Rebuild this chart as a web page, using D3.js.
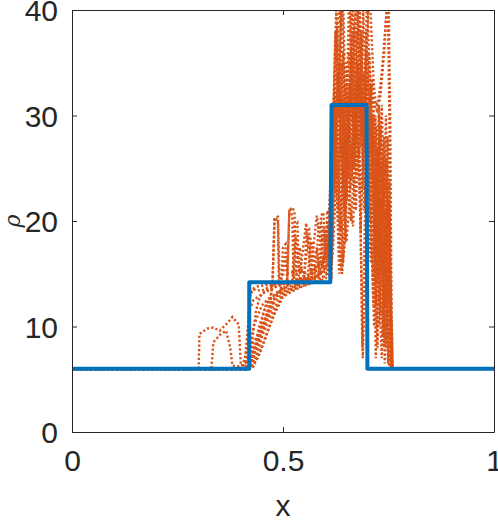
<!DOCTYPE html>
<html>
<head>
<meta charset="utf-8">
<script src="https://cdn.jsdelivr.net/npm/d3@7"></script>
<style>
  html, body { margin: 0; padding: 0; background: #fff; }
  #chart { width: 498px; height: 520px; overflow: hidden; }
</style>
</head>
<body>
<div id="chart"></div>
<script>
// axis ticks
const xTicks = [0, 0.5, 1];
const yTicks = [0, 10, 20, 30, 40];
const xTickLabels = ["0", "0.5", "1"];
const yTickLabels = ["0", "10", "20", "30", "40"];

// reference solution (blue step)
const exact = [[0,6],[0.42,6],[0.42,14.2],[0.612,14.2],[0.615,31],[0.698,31],[0.70,6],[1,6]];

// ensemble runs (orange dotted)
const run01 = [[0,5.9],[0.30,5.9],[0.302,9.3],[0.32,9.8],[0.335,9.9],[0.35,9.6],[0.37,10.4],[0.38,10.9],[0.395,10.2],[0.40,6.4],[0.42,6.1],[0.44,9],[0.46,12.2],[0.48,13],[0.5,13.5],[0.52,14.2],[0.55,14.5],[0.58,14.8],[0.60,15.2],[0.612,16.5],[0.62,24],[0.63,31],[0.64,42],[0.645,30],[0.65,22],[0.655,28],[0.665,35],[0.675,42],[0.685,30],[0.69,25],[0.70,38],[0.705,42],[0.715,33],[0.72,31],[0.73,31.5],[0.74,36],[0.748,42],[0.752,30],[0.758,6],[1,6]];
const run02 = [[0,5.9],[0.33,5.9],[0.335,8.5],[0.35,9.2],[0.365,9.6],[0.375,8],[0.38,6.3],[0.40,6.2],[0.41,6.5],[0.42,7],[0.43,10],[0.45,12],[0.47,12.8],[0.475,14],[0.48,20.3],[0.488,20],[0.49,14],[0.51,14.3],[0.515,21.2],[0.522,20.5],[0.525,14.5],[0.53,18.5],[0.54,15],[0.555,19.8],[0.565,15],[0.58,20.5],[0.59,18],[0.60,19],[0.615,18],[0.625,27],[0.633,15],[0.64,22],[0.648,35],[0.655,24],[0.665,38],[0.672,28],[0.68,33],[0.69,25],[0.697,30],[0.705,20],[0.712,28],[0.72,12],[0.73,25],[0.74,8],[0.75,22],[0.758,6],[1,6]];
const run03 = [[0,5.9],[0.41,5.9],[0.415,8],[0.42,12],[0.425,13.5],[0.44,13.8],[0.47,14],[0.5,14.2],[0.53,14.4],[0.56,14.5],[0.59,14.6],[0.605,15],[0.612,18],[0.618,28],[0.624,38],[0.63,33],[0.636,24],[0.642,16],[0.648,19],[0.655,29],[0.662,36],[0.668,30],[0.674,24],[0.68,34],[0.686,38],[0.692,29],[0.698,22],[0.704,28],[0.71,18],[0.716,10],[0.722,24],[0.728,14],[0.734,7],[0.74,18],[0.746,9],[0.752,6],[1,6]];
const run04 = [[0,6],[0.42,6],[0.43,7],[0.44,8.5],[0.46,10.5],[0.48,12.3],[0.5,13.2],[0.52,13.6],[0.54,14],[0.56,14.3],[0.58,14.6],[0.6,15.5],[0.608,17],[0.615,24],[0.621,32],[0.627,28],[0.633,20],[0.639,15],[0.645,22],[0.651,31],[0.657,42],[0.663,33],[0.669,26],[0.675,31],[0.681,42],[0.687,32],[0.693,27],[0.699,42],[0.705,34],[0.711,29],[0.717,20],[0.723,27],[0.729,12],[0.735,22],[0.741,6.5],[0.747,15],[0.753,6],[1,6]];
const run05 = [[0,6],[0.42,6],[0.425,6.5],[0.43,8.5],[0.445,9.5],[0.46,11],[0.47,12.5],[0.475,13.8],[0.48,20.3],[0.488,20.4],[0.492,14],[0.51,14.2],[0.515,20.8],[0.52,21.3],[0.527,21],[0.532,14.5],[0.55,14.6],[0.556,19],[0.562,19.2],[0.566,15],[0.585,15.2],[0.59,20.5],[0.596,20.8],[0.6,16],[0.61,17],[0.616,20],[0.622,30],[0.628,36],[0.634,42],[0.64,31],[0.646,20],[0.652,26],[0.658,33],[0.664,28],[0.67,22],[0.676,29],[0.682,24],[0.688,8],[0.694,20],[0.70,30],[0.706,22],[0.712,30],[0.718,16],[0.724,8],[0.73,20],[0.736,26],[0.742,12],[0.748,28],[0.754,8],[0.76,6],[1,6]];
const run06 = [[0,6],[0.42,6],[0.43,6.3],[0.44,7.5],[0.45,9],[0.465,10.5],[0.48,11.8],[0.495,12.7],[0.51,13.2],[0.53,13.8],[0.55,14.2],[0.57,14.4],[0.59,15.2],[0.6,17],[0.605,18.5],[0.61,16],[0.617,22],[0.623,27],[0.629,34],[0.635,29],[0.641,25],[0.647,21],[0.653,27],[0.659,31],[0.665,42],[0.671,34],[0.677,28],[0.683,22],[0.689,7],[0.695,15],[0.701,26],[0.707,33],[0.713,24],[0.719,30],[0.725,18],[0.731,27],[0.737,9],[0.743,21],[0.749,6.5],[0.755,14],[0.76,6],[1,6]];
const run07 = [[0,6],[0.415,6],[0.418,9],[0.422,13],[0.43,13.5],[0.45,13.4],[0.47,13.8],[0.49,14.2],[0.5,14.8],[0.505,17],[0.51,15],[0.53,15.2],[0.54,17.5],[0.545,15],[0.56,15.3],[0.565,17.8],[0.57,18],[0.575,15.5],[0.59,16],[0.595,19.5],[0.6,18],[0.605,20],[0.61,18],[0.615,14.5],[0.62,26],[0.626,33],[0.632,30],[0.638,35],[0.644,28],[0.65,24],[0.656,30],[0.662,25],[0.668,33],[0.674,38],[0.68,30],[0.686,27],[0.692,32],[0.698,36],[0.704,29],[0.71,33],[0.716,25],[0.722,14],[0.728,28],[0.734,16],[0.74,24],[0.746,10],[0.752,19],[0.758,6],[1,6]];
const run08 = [[0,6],[0.42,6],[0.425,7],[0.435,8],[0.45,9.8],[0.462,11],[0.475,12.5],[0.49,13],[0.505,13.4],[0.52,13.7],[0.54,14.1],[0.56,14.4],[0.58,14.7],[0.595,16],[0.6,18.5],[0.603,16.5],[0.61,19.5],[0.614,17],[0.618,21],[0.624,31],[0.63,26],[0.636,19],[0.642,28],[0.648,33],[0.654,29],[0.66,21],[0.666,19.5],[0.672,26],[0.678,35],[0.684,29],[0.69,40],[0.696,33],[0.702,27],[0.708,21],[0.714,12],[0.72,26],[0.726,20],[0.732,29],[0.738,14],[0.744,8],[0.75,17],[0.756,6],[1,6]];
const run09 = [[0,6],[0.42,6],[0.43,6.8],[0.44,9.5],[0.455,11.5],[0.47,12.6],[0.49,13.4],[0.51,13.9],[0.53,14.3],[0.55,14.8],[0.57,15],[0.58,17.5],[0.585,15.5],[0.6,16.5],[0.608,20],[0.614,25],[0.62,29],[0.626,24],[0.632,27],[0.638,32],[0.644,26],[0.65,35],[0.656,30],[0.662,41],[0.668,36],[0.674,28],[0.68,26],[0.686,30],[0.692,34],[0.698,29],[0.704,36],[0.71,32],[0.716,31],[0.722,30.5],[0.728,32],[0.734,34],[0.74,37],[0.746,40],[0.75,42],[0.754,30],[0.757,12],[0.76,6],[1,6]];
const run10 = [[0,6],[0.40,6],[0.405,6.5],[0.41,7],[0.415,9],[0.42,11.5],[0.43,12.5],[0.44,12.8],[0.46,13.3],[0.48,13.7],[0.5,14],[0.52,14.2],[0.54,15.5],[0.56,14.8],[0.58,15.5],[0.59,17],[0.6,19],[0.606,17.5],[0.612,15],[0.618,19],[0.624,36],[0.628,38.5],[0.632,30],[0.638,26],[0.644,22],[0.65,18],[0.656,21],[0.662,27],[0.668,31],[0.674,42],[0.68,36],[0.686,31],[0.692,26],[0.698,20],[0.704,17],[0.71,25],[0.716,30],[0.722,20],[0.728,10],[0.734,23],[0.74,28],[0.746,15],[0.752,24],[0.757,6],[1,6]];
const run11 = [[0,6],[0.42,6],[0.43,6.2],[0.445,7.5],[0.46,9.2],[0.475,10.8],[0.49,12.3],[0.5,13],[0.515,13.4],[0.53,13.6],[0.55,13.9],[0.57,14.2],[0.585,14.4],[0.6,14.8],[0.61,15.5],[0.616,21],[0.622,25],[0.628,22],[0.634,17],[0.64,15],[0.646,18],[0.652,25],[0.658,29],[0.664,24],[0.67,30],[0.676,33],[0.682,26],[0.688,23],[0.694,29],[0.70,33.5],[0.706,31],[0.712,33.5],[0.718,27],[0.724,22],[0.73,30],[0.736,25],[0.742,19],[0.748,11],[0.754,6],[1,6]];
const run12 = [[0,6],[0.42,6],[0.425,6.4],[0.44,7],[0.455,8.5],[0.47,10.2],[0.48,11.2],[0.49,12],[0.5,12.8],[0.52,13.3],[0.54,13.7],[0.56,14],[0.58,14.2],[0.6,14.5],[0.612,15],[0.618,17],[0.624,22],[0.63,28],[0.636,37],[0.642,42],[0.648,31],[0.654,26],[0.66,23],[0.666,28],[0.672,31],[0.678,27],[0.684,19],[0.69,27],[0.696,31],[0.702,24],[0.708,16],[0.714,22],[0.72,7],[0.726,18],[0.732,25],[0.738,20],[0.744,30],[0.75,16],[0.756,6],[1,6]];
const run13 = [[0,6],[0.42,6],[0.43,7.5],[0.45,10],[0.47,12],[0.485,13],[0.495,13.5],[0.5,17.5],[0.506,17.8],[0.51,14],[0.522,14.2],[0.528,19.5],[0.534,19.8],[0.538,14.5],[0.55,14.8],[0.56,18.5],[0.565,18.5],[0.57,15.2],[0.578,15],[0.584,19.5],[0.59,19.8],[0.595,15.5],[0.6,16.5],[0.605,21],[0.61,20.5],[0.615,16],[0.62,23],[0.626,30],[0.632,35],[0.638,27],[0.644,23],[0.65,29],[0.656,36],[0.662,31],[0.668,25],[0.674,33],[0.68,42],[0.686,34],[0.692,21],[0.698,24],[0.704,30],[0.71,27],[0.716,20],[0.722,29],[0.728,24],[0.734,31],[0.74,22],[0.746,26],[0.752,17],[0.758,6],[1,6]];
const run14 = [[0,6],[0.42,6],[0.428,9],[0.436,11.5],[0.445,12.8],[0.46,13.5],[0.49,13.9],[0.52,14.3],[0.55,14.6],[0.58,15.6],[0.6,16.8],[0.612,18],[0.62,31],[0.626,40],[0.632,34],[0.64,29],[0.648,24],[0.656,33],[0.664,30],[0.672,36],[0.68,31],[0.688,28],[0.696,33],[0.702,25],[0.708,30],[0.714,15],[0.72,22],[0.726,27],[0.732,11],[0.738,26],[0.744,22],[0.75,9],[0.757,6],[1,6]];
const run15 = [[0,6],[0.42,6],[0.432,6.5],[0.444,8.8],[0.456,10],[0.468,11.5],[0.482,12.8],[0.5,13.6],[0.53,14],[0.56,14.6],[0.59,15],[0.607,16],[0.613,22],[0.619,31],[0.625,26],[0.631,21],[0.637,31],[0.643,36],[0.649,28],[0.655,22],[0.661,20],[0.667,24],[0.673,21],[0.679,29],[0.685,35],[0.691,30],[0.697,38],[0.703,32],[0.709,24],[0.715,28],[0.721,18],[0.727,31],[0.733,20],[0.739,12],[0.745,24],[0.751,20],[0.757,6],[1,6]];
const runs = [run01, run02, run03, run04, run05, run06, run07, run08, run09, run10, run11, run12, run13, run14, run15];

let settings = {
  marginTop: 10, // top margin, in pixels
  marginRight: 4, // right margin, in pixels
  marginBottom: 88, // bottom margin, in pixels
  marginLeft: 72, // left margin, in pixels
  width: 498, // outer width, in pixels
  height: 520, // outer height, in pixels
  ink: "#262626",
  orange: "#D95319",
  blue: "#0072BD",
  font: "'Liberation Sans', Arial, Helvetica, sans-serif",
  id: "#chart",
};

function drawChart(conf){
  const svg = d3.create("svg")
      .attr("width", conf.width)
      .attr("height", conf.height)
      .attr("viewBox", [0, 0, conf.width, conf.height])
      .style("font-family", conf.font);

  const x0 = conf.marginLeft, x1 = conf.width - conf.marginRight;
  const y0 = conf.height - conf.marginBottom, y1 = conf.marginTop;
  const xScale = d3.scaleLinear([0, 1], [x0, x1]);
  const yScale = d3.scaleLinear([0, 40], [y0, y1]);

  svg.append("clipPath").attr("id", "plotclip")
    .append("rect")
      .attr("x", x0).attr("y", y1)
      .attr("width", x1 - x0).attr("height", y0 - y1);

  const line = d3.line()
      .x(d => xScale(d[0]))
      .y(d => yScale(d[1]));

  const plot = svg.append("g").attr("clip-path", "url(#plotclip)");

  // ensemble members
  plot.selectAll("path.run")
    .data(runs)
    .join("path")
      .attr("class", "run")
      .attr("fill", "none")
      .attr("stroke", conf.orange)
      .attr("stroke-width", 2.4)
      .attr("stroke-dasharray", "2.2,2.2")
      .attr("d", line);

  // exact solution
  plot.append("path")
      .attr("fill", "none")
      .attr("stroke", conf.blue)
      .attr("stroke-width", 4)
      .attr("stroke-linejoin", "round")
      .attr("d", line(exact));

  // box with inward ticks on all four sides
  const tick = 5;
  const xAxis = d3.axisBottom(xScale).tickValues(xTicks).tickSize(-tick).tickSizeOuter(0)
      .tickFormat((d, i) => xTickLabels[i]).tickPadding(18);
  const yAxis = d3.axisLeft(yScale).tickValues(yTicks).tickSize(-tick).tickSizeOuter(0)
      .tickFormat((d, i) => yTickLabels[i]).tickPadding(14);

  svg.append("g")
      .attr("transform", `translate(0,${y0})`)
      .call(xAxis);
  const gy = svg.append("g")
      .attr("transform", `translate(${x0},0)`)
      .call(yAxis);
  svg.append("g")
      .attr("transform", `translate(0,${y1})`)
      .call(d3.axisTop(xScale).tickValues(xTicks).tickSize(-tick).tickSizeOuter(0).tickFormat(""));
  svg.append("g")
      .attr("transform", `translate(${x1},0)`)
      .call(d3.axisRight(yScale).tickValues(yTicks).tickSize(-tick).tickSizeOuter(0).tickFormat(""));

  svg.selectAll(".domain, .tick line").attr("stroke", conf.ink).attr("stroke-width", 1);
  svg.selectAll(".tick text")
      .attr("fill", conf.ink)
      .style("font-family", conf.font)
      .style("font-size", "30px");
  gy.selectAll(".tick text").attr("dy", "0.36em");

  // axis titles
  svg.append("text")
      .attr("x", (x0 + x1) / 2)
      .attr("y", 516)
      .attr("text-anchor", "middle")
      .attr("fill", conf.ink)
      .style("font-size", "30px")
      .text("x");
  svg.append("text")
      .attr("transform", `translate(20,${(y0 + y1) / 2}) rotate(-90)`)
      .attr("text-anchor", "middle")
      .attr("fill", conf.ink)
      .style("font-size", "22px")
      .style("font-style", "italic")
      .style("font-family", "'DejaVu Serif', serif")
      .text("ρ");

  d3.select(conf.id).node().append(svg.node());
}

drawChart(settings);
</script>
</body>
</html>
